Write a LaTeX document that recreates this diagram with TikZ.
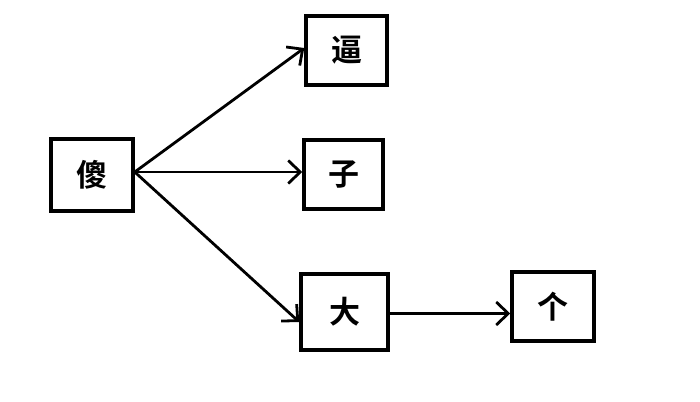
\documentclass[tikz,border=0pt]{standalone}
\usepackage{fontspec}
\newfontfamily\cjk{Noto Sans CJK SC Bold}
\usetikzlibrary{arrows.meta}
\begin{document}
\begin{tikzpicture}[x=1pt,y=-1pt,
  box/.style={draw=black, line width=3.5pt, fill=white, minimum width=#1, inner sep=0pt, font=\cjk\fontsize{31}{31}\selectfont},
  conn/.style={line width=2.8pt, -{Straight Barb[length=12pt,width=23pt,line width=2.8pt]}}]
\useasboundingbox (0,0) rectangle (700,401);
\node[box=82pt, minimum height=72pt] (sha) at (92,175) {傻};
\node[box=81pt, minimum height=69pt] (bi) at (346.5,50.5) {逼};
\node[box=79pt, minimum height=69pt] (zi) at (343.5,174.5) {子};
\node[box=87pt, minimum height=76pt] (da) at (344.5,312) {大};
\node[box=82pt, minimum height=69pt] (ge) at (553,306.5) {个};
\coordinate (src) at ([yshift=3pt]sha.east);
\draw[conn] (src) -- ([yshift=2.5pt]bi.west);
\draw[conn] (src) -- ([yshift=2.5pt]zi.west);
\draw[conn] (src) -- ([yshift=-10pt]da.west);
\draw[conn] ([yshift=-1.5pt]da.east) -- ([yshift=-7pt]ge.west);
\end{tikzpicture}
\end{document}
